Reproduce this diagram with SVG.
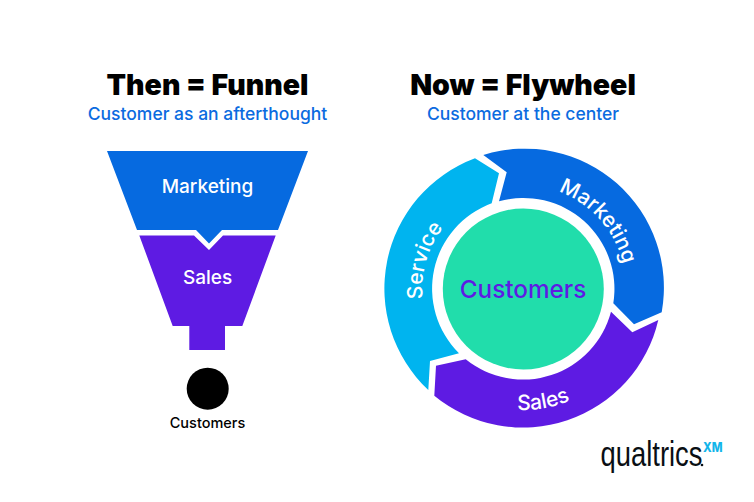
<svg xmlns="http://www.w3.org/2000/svg" width="754" height="502" viewBox="0 0 754 502">
<style>
text{font-family:Inter,"Liberation Sans",sans-serif;text-anchor:middle}
.title{font-size:28.500px;font-weight:900;fill:#000}
.sub{font-size:17.500px;font-weight:500;fill:#0b6be0}
.lab{font-size:19px;font-weight:500;fill:#fff}
.arc{font-size:21px;font-weight:500;fill:#fff}
.blue{fill:#066ae0}.purple{fill:#5e1be3}.cyan{fill:#00b4ef}
</style>
<defs>
<path id="mkArc" d="M521.500 185A104 104 0 0 1 625.500 301.700"/>
<path id="svArc" d="M450.600 359.200A101 101 0 0 1 498.900 191"/>
<path id="saArc" d="M445.500 381.700A121 121 0 0 0 628.100 349.500"/>
</defs>
<rect width="754" height="502" fill="#fff"/>
<g id="titles">
<text class="title" x="207.500" y="95">Then = Funnel</text>
<text class="sub" x="207.500" y="120">Customer as an afterthought</text>
<text class="title" x="523" y="95">Now = Flywheel</text>
<text class="sub" x="523" y="120">Customer at the center</text>
</g>
<g id="funnel-marketing">
<path class="blue" d="M107 151H308L278 230H222L209 243.500L196 230H137Z"/>
<text class="lab" x="207.500" y="193">Marketing</text>
</g>
<g id="funnel-sales">
<path class="purple" d="M139.300 235.500H194L209 250L223 235.500H275.700L242.300 326H225V350H189.300V326H172.700Z"/>
<text class="lab" x="207.500" y="284">Sales</text>
</g>
<g id="funnel-customers">
<circle cx="207.700" cy="388.700" r="21" fill="#000"/>
<text x="207.500" y="428" font-size="14.500" font-weight="500" fill="#000">Customers</text>
</g>
<g id="wheel-marketing">
<path class="blue" d="M483.300 155A139 139 0 0 1 661.700 312.300L634 324.300L613.300 303.300A91 91 0 0 0 499 201.300L506.700 172.300Z"/>
<text class="arc"><textPath href="#mkArc" startOffset="50%">Marketing</textPath></text>
</g>
<g id="wheel-sales">
<path class="purple" d="M658.300 320L632.300 332.300L611 311.700A91 91 0 0 1 465.700 359.300L436 365.700L434.300 395.700A139 139 0 0 0 658.300 320Z"/>
<text class="arc"><textPath href="#saArc" startOffset="50%">Sales</textPath></text>
</g>
<g id="wheel-service">
<path class="cyan" d="M475 158.300L499 173.300L491.700 203.300A91 91 0 0 0 459 353.300L430 361L428.300 390A139 139 0 0 1 475 158.300Z"/>
<text class="arc"><textPath href="#svArc" startOffset="50%">Service</textPath></text>
</g>
<g id="wheel-customers">
<circle cx="523.300" cy="289" r="80.500" fill="#21ddab"/>
<text x="523" y="298" font-size="24.300" font-weight="500" fill="#5e1be3">Customers</text>
</g>
<g id="logo">
<text transform="translate(600.500 466) scale(1.015 1.3)" x="0" y="0" font-size="27" fill="#0a0f14" style="font-family:'Liberation Sans',sans-serif;text-anchor:start">qualtrics</text>
<circle cx="702" cy="465" r="1.300" fill="#0a0f14"/>
<text x="703" y="452" font-size="13" font-weight="800" fill="#12b5ea" style="text-anchor:start" textLength="19.500" lengthAdjust="spacingAndGlyphs">XM</text>
</g>
</svg>
